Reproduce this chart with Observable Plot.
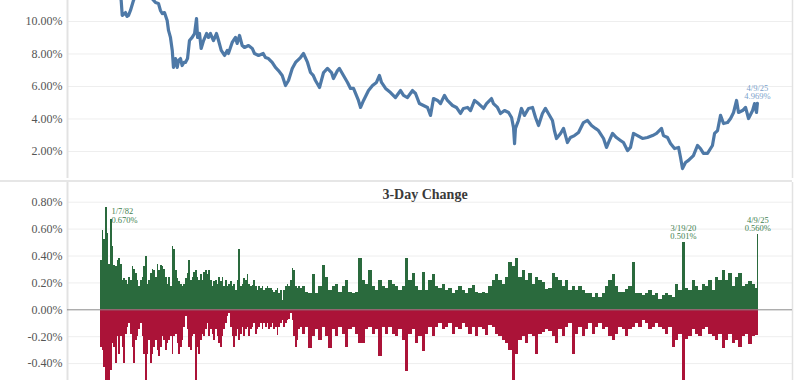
<!DOCTYPE html>
<html><head><meta charset="utf-8">
<script src="https://cdn.jsdelivr.net/npm/d3@7"></script>
<script src="https://cdn.jsdelivr.net/npm/@observablehq/plot@0.6"></script>
<style>
body{margin:0;background:#fff;}
#wrap{position:relative;width:800px;height:380px;overflow:hidden;background:#fff;}
#top{position:absolute;left:0;top:0;}
#sep{position:absolute;left:0;top:180px;width:792px;height:2px;background:#e6e6e6;}
#bot{position:absolute;left:0;top:182px;}
</style></head><body>
<div id="wrap"><div id="top"></div><div id="sep"></div><div id="bot"></div></div>
<script>
// 30-year yield (decimal year, percent)
const yieldYears = [1981.42,1981.82,1982.22,1982.55,1982.80,1982.87,1982.95,1983.09,1983.19,1983.29,
1983.42,1983.62,1983.89,1984.16,1984.42,1984.62,1984.87,1985.09,1985.29,1985.42,
1985.54,1985.69,1985.87,1985.96,1986.09,1986.21,1986.29,1986.43,1986.54,1986.63,
1986.76,1986.87,1986.99,1987.09,1987.23,1987.36,1987.54,1987.70,1987.83,1987.90,
1988.03,1988.14,1988.30,1988.50,1988.63,1988.76,1988.96,1989.16,1989.30,1989.48,
1989.70,1989.88,1989.96,1990.21,1990.43,1990.54,1990.70,1990.88,1991.03,1991.30,
1991.55,1991.70,1991.97,1992.28,1992.43,1992.63,1992.88,1993.10,1993.30,1993.55,
1993.77,1993.97,1994.22,1994.44,1994.77,1994.97,1995.24,1995.44,1995.62,1995.77,
1996.04,1996.31,1996.57,1996.84,1996.97,1997.24,1997.37,1997.64,1997.91,1998.11,
1998.31,1998.64,1998.78,1998.98,1999.31,1999.58,1999.84,2000.04,2000.18,2000.45,
2000.78,2001.11,2001.45,2001.65,2001.91,2002.25,2002.45,2002.71,2002.98,2003.25,
2003.45,2003.65,2003.92,2004.12,2004.38,2004.58,2004.92,2005.18,2005.45,2005.65,
2005.92,2006.12,2006.39,2006.65,2006.99,2007.19,2007.52,2007.65,2007.92,2008.12,
2008.39,2008.66,2008.86,2008.99,2009.06,2009.12,2009.32,2009.52,2009.72,2009.99,
2010.26,2010.46,2010.66,2010.92,2011.12,2011.32,2011.59,2011.72,2011.86,2012.13,
2012.33,2012.59,2012.79,2013.06,2013.33,2013.66,2013.93,2014.20,2014.46,2014.66,
2015.00,2015.20,2015.33,2015.60,2015.86,2016.13,2016.33,2016.60,2016.80,2017.00,
2017.27,2017.60,2017.93,2018.27,2018.54,2018.87,2019.00,2019.27,2019.47,2019.74,
2020.01,2020.14,2020.27,2020.47,2020.67,2021.00,2021.27,2021.47,2021.67,2021.94,
2022.27,2022.41,2022.61,2022.81,2023.01,2023.28,2023.48,2023.68,2023.88,2024.01,
2024.28,2024.48,2024.68,2024.95,2025.08,2025.21,2025.27];
const yieldValues = [13.4,13.9,13.2,12.2,11.3,10.37,10.43,10.55,10.31,10.37,
10.68,11.29,11.9,12.4,13.6,13.0,11.4,11.17,11.11,10.68,
10.49,10.55,10.06,9.45,9.02,8.22,7.17,7.72,7.17,7.6,
7.72,7.29,7.48,7.48,7.72,8.83,9.02,9.26,10.18,9.02,
9.26,8.34,8.83,9.26,9.02,9.26,8.83,9.26,8.83,8.22,
7.91,8.22,8.03,8.71,9.02,8.65,9.14,8.52,8.40,8.52,
8.34,8.03,7.91,8.03,7.78,7.72,7.48,7.17,6.98,6.68,
6.06,6.37,7.11,7.48,7.78,8.03,7.48,6.86,6.68,6.37,
5.94,6.86,7.11,6.86,6.49,6.98,7.11,6.68,6.25,5.88,
5.88,5.14,4.71,5.14,5.75,6.06,6.25,6.68,6.25,5.88,
5.63,5.32,5.75,5.45,5.32,5.75,5.57,4.95,4.83,4.71,
4.22,5.26,5.14,4.95,5.45,5.14,4.83,4.71,4.34,4.65,
4.71,4.52,5.14,4.95,4.65,4.95,5.26,4.95,4.71,4.34,
4.52,4.40,4.09,3.48,2.49,3.42,3.91,4.65,4.22,4.65,
4.71,4.09,3.60,4.34,4.65,4.34,3.91,3.29,2.80,3.11,
3.42,2.55,2.86,2.98,3.17,3.78,3.91,3.60,3.42,3.29,
2.80,2.25,2.55,3.11,2.86,2.68,2.55,2.06,2.25,3.11,
2.98,2.80,2.86,2.98,3.11,3.42,2.98,2.86,2.49,2.18,
2.25,1.63,0.95,1.32,1.45,1.75,2.37,2.18,1.88,1.88,
2.37,3.11,3.29,4.22,3.72,3.78,4.03,4.40,5.14,4.40,
4.52,4.71,4.03,4.52,4.95,4.40,4.969];

// 3-day change samples: decimal year, largest rise, largest fall (percentage points)
const changeYears = [1981.42,1981.53,1981.64,1981.75,1981.87,1981.98,1982.09,1982.20,1982.31,1982.42,
1982.53,1982.64,1982.76,1982.87,1982.98,1983.09,1983.20,1983.31,1983.42,1983.53,
1983.65,1983.76,1983.87,1983.98,1984.09,1984.20,1984.31,1984.42,1984.54,1984.65,
1984.76,1984.87,1984.98,1985.09,1985.20,1985.31,1985.43,1985.54,1985.65,1985.76,
1985.87,1985.98,1986.09,1986.21,1986.32,1986.43,1986.54,1986.65,1986.76,1986.87,
1986.98,1987.10,1987.21,1987.32,1987.43,1987.54,1987.65,1987.76,1987.87,1987.99,
1988.10,1988.21,1988.32,1988.43,1988.54,1988.65,1988.76,1988.88,1988.99,1989.10,
1989.21,1989.32,1989.43,1989.54,1989.65,1989.77,1989.88,1989.99,1990.10,1990.21,
1990.32,1990.43,1990.54,1990.66,1990.77,1990.88,1990.99,1991.10,1991.21,1991.32,
1991.43,1991.55,1991.66,1991.77,1991.88,1991.99,1992.10,1992.21,1992.32,1992.44,
1992.55,1992.66,1992.77,1992.88,1992.99,1993.10,1993.21,1993.33,1993.44,1993.55,
1993.66,1993.77,1993.88,1993.99,1994.10,1994.22,1994.33,1994.44,1994.55,1994.66,
1994.77,
1994.88,1995.10,1995.33,1995.55,1995.77,1996.00,1996.22,1996.44,1996.66,1996.89,
1997.11,1997.33,1997.55,1997.78,1998.00,1998.22,1998.44,1998.67,1998.89,1999.11,
1999.33,1999.56,1999.78,2000.00,2000.22,2000.45,2000.67,2000.89,2001.11,2001.34,
2001.56,2001.78,2002.00,2002.23,2002.45,2002.67,2002.89,2003.12,2003.34,2003.56,
2003.78,2004.01,2004.23,2004.45,2004.67,2004.90,2005.12,2005.34,2005.56,2005.79,
2006.01,2006.23,2006.45,2006.68,2006.90,2007.12,2007.34,2007.57,2007.79,2008.01,
2008.23,2008.46,2008.68,2008.90,2009.12,2009.35,2009.57,2009.79,2010.01,2010.24,
2010.46,
2010.68,2010.90,2011.13,2011.35,2011.57,2011.79,2012.02,2012.24,2012.46,2012.68,
2012.91,2013.13,2013.35,2013.57,2013.80,2014.02,2014.24,2014.46,2014.69,2014.91,
2015.13,2015.35,2015.57,2015.80,2016.02,2016.24,2016.46,2016.69,2016.91,2017.13,
2017.35,2017.58,2017.80,2018.02,2018.24,2018.47,2018.69,2018.91,2019.13,2019.36,
2019.58,2019.80,2020.02,2020.25,2020.47,2020.69,2020.91,2021.14,2021.36,2021.58,
2021.80,2022.03,2022.25,2022.47,2022.69,2022.92,2023.14,2023.36,2023.58,2023.81,
2024.03,2024.25,2024.47,2024.70,2024.92,2025.14,
2025.27];
const changeUp = [0.37,0.59,0.52,0.76,0.57,0.34,0.67,0.47,0.33,0.32,
0.37,0.38,0.34,0.22,0.23,0.22,0.19,0.24,0.22,0.32,
0.30,0.27,0.22,0.17,0.22,0.24,0.32,0.40,0.19,0.22,
0.27,0.30,0.29,0.24,0.34,0.29,0.33,0.32,0.30,0.24,
0.19,0.24,0.17,0.47,0.45,0.29,0.23,0.21,0.19,0.17,
0.19,0.23,0.27,0.37,0.22,0.24,0.28,0.29,0.24,0.22,
0.26,0.22,0.28,0.29,0.26,0.29,0.22,0.17,0.21,0.22,
0.19,0.24,0.21,0.24,0.17,0.22,0.17,0.19,0.21,0.17,
0.19,0.14,0.22,0.45,0.17,0.19,0.23,0.22,0.26,0.19,
0.17,0.18,0.22,0.17,0.14,0.17,0.16,0.17,0.14,0.16,
0.17,0.16,0.16,0.14,0.13,0.14,0.16,0.12,0.14,0.07,
0.14,0.17,0.19,0.17,0.22,0.31,0.29,0.17,0.16,0.17,
0.16,
0.17,0.13,0.12,0.26,0.12,0.17,0.33,0.24,0.14,0.17,
0.19,0.13,0.17,0.22,0.13,0.12,0.13,0.38,0.22,0.19,
0.29,0.17,0.14,0.22,0.17,0.16,0.22,0.19,0.17,0.14,
0.17,0.38,0.22,0.27,0.17,0.14,0.28,0.14,0.22,0.26,
0.17,0.16,0.19,0.14,0.16,0.12,0.14,0.17,0.14,0.12,
0.16,0.18,0.13,0.12,0.13,0.12,0.17,0.22,0.26,0.22,
0.19,0.24,0.35,0.32,0.38,0.24,0.29,0.22,0.27,0.19,
0.24,
0.22,0.20,0.15,0.16,0.27,0.24,0.22,0.17,0.22,0.14,
0.17,0.14,0.17,0.14,0.12,0.12,0.09,0.12,0.09,0.12,
0.17,0.22,0.26,0.17,0.13,0.13,0.15,0.17,0.35,0.12,
0.12,0.11,0.12,0.14,0.11,0.12,0.08,0.11,0.12,0.11,
0.09,0.19,0.14,0.50,0.16,0.14,0.22,0.17,0.14,0.19,
0.17,0.22,0.14,0.24,0.22,0.29,0.22,0.27,0.17,0.24,
0.27,0.17,0.19,0.21,0.19,0.16,
0.56];
const changeDown = [-0.28,-0.30,-0.43,-0.53,-0.53,-0.53,-0.45,-0.25,-0.28,-0.40,
-0.20,-0.33,-0.20,-0.28,-0.40,-0.18,-0.13,-0.10,-0.18,-0.28,
-0.40,-0.23,-0.20,-0.15,-0.10,-0.20,-0.33,-0.53,-0.33,-0.23,
-0.40,-0.33,-0.28,-0.23,-0.30,-0.35,-0.28,-0.20,-0.23,-0.30,
-0.25,-0.23,-0.20,-0.33,-0.20,-0.18,-0.25,-0.33,-0.28,-0.23,
-0.13,-0.05,-0.15,-0.28,-0.30,-0.20,-0.18,-0.53,-0.28,-0.33,
-0.23,-0.18,-0.20,-0.15,-0.10,-0.20,-0.15,-0.18,-0.23,-0.15,
-0.20,-0.25,-0.28,-0.20,-0.15,-0.10,-0.05,-0.03,-0.13,-0.20,
-0.28,-0.20,-0.15,-0.23,-0.18,-0.13,-0.20,-0.15,-0.13,-0.20,
-0.15,-0.13,-0.10,-0.18,-0.15,-0.13,-0.10,-0.15,-0.10,-0.13,
-0.10,-0.15,-0.13,-0.10,-0.15,-0.13,-0.19,-0.13,-0.10,-0.08,
-0.13,-0.10,-0.08,-0.07,-0.03,-0.08,-0.20,-0.28,-0.23,-0.15,
-0.13,
-0.18,-0.13,-0.29,-0.20,-0.15,-0.23,-0.13,-0.20,-0.29,-0.15,
-0.20,-0.13,-0.18,-0.28,-0.15,-0.13,-0.18,-0.25,-0.25,-0.15,
-0.13,-0.18,-0.15,-0.35,-0.13,-0.18,-0.13,-0.18,-0.20,-0.15,
-0.23,-0.46,-0.18,-0.15,-0.25,-0.20,-0.31,-0.18,-0.13,-0.20,
-0.13,-0.10,-0.15,-0.13,-0.10,-0.18,-0.13,-0.15,-0.10,-0.13,
-0.18,-0.13,-0.20,-0.13,-0.15,-0.19,-0.12,-0.13,-0.18,-0.20,
-0.23,-0.25,-0.30,-0.53,-0.33,-0.23,-0.20,-0.25,-0.18,-0.20,
-0.33,
-0.18,-0.17,-0.15,-0.16,-0.20,-0.25,-0.15,-0.20,-0.13,-0.10,
-0.33,-0.18,-0.13,-0.20,-0.15,-0.10,-0.18,-0.13,-0.10,-0.15,
-0.13,-0.20,-0.23,-0.18,-0.13,-0.15,-0.20,-0.15,-0.13,-0.10,
-0.13,-0.08,-0.10,-0.15,-0.13,-0.10,-0.13,-0.15,-0.18,-0.13,
-0.28,-0.23,-0.18,-0.53,-0.22,-0.20,-0.15,-0.18,-0.20,-0.15,
-0.13,-0.18,-0.20,-0.23,-0.18,-0.29,-0.23,-0.18,-0.25,-0.23,
-0.28,-0.20,-0.18,-0.26,-0.20,-0.19,
-0.19];

const yieldTicks = [2, 4, 6, 8, 10];
const changeTicks = [-0.4, -0.2, 0, 0.2, 0.4, 0.6, 0.8];
const yieldNotes = [{year: 2025.27, value: 4.969, label: "4/9/25\n4.969%"}];
const changeNotesLeft = [{year: 1982.02, value: 0.670, label: "1/7/82\n0.670%"}];
const changeNotesTop = [
  {year: 2020.33, value: 0.501, label: "3/19/20\n0.501%"},
  {year: 2025.30, value: 0.560, label: "4/9/25\n0.560%"}
];
const chartTitle = "3-Day Change";

const xDomain = [1979.217, 2027.614];
const FONT = "'Liberation Serif','DejaVu Serif',serif";
const fmt = d => d.toFixed(2) + "%";

const yieldData = yieldYears.map((y, i) => ({year: y, value: yieldValues[i]}));
const bars = changeYears.map((y, i) => ({
  x1: y,
  x2: i < changeYears.length - 1 ? changeYears[i + 1] : y + 0.1,
  up: changeUp[i],
  down: changeDown[i]
}));

const topPlot = Plot.plot({
  width: 800, height: 180,
  marginLeft: 67, marginRight: 8, marginTop: 0, marginBottom: 2,
  style: {fontFamily: FONT, fontSize: "12px", color: "#555", background: "white", overflow: "hidden"},
  x: {domain: xDomain, axis: null},
  y: {domain: [0.338, 11.292], axis: null},
  marks: [
    Plot.ruleY(yieldTicks, {stroke: "#eeeeee"}),
    Plot.axisY(yieldTicks, {tickSize: 0, tickPadding: 5, tickFormat: fmt, fontSize: 12, fill: "#555", label: null}),
    Plot.ruleX([xDomain[0]], {stroke: "#e2e2e2", strokeWidth: 2}),
    Plot.ruleX([xDomain[1]], {stroke: "#e2e2e2", strokeWidth: 1.5}),
    Plot.line(yieldData, {x: "year", y: "value", stroke: "#4e79a7", strokeWidth: 3.2, strokeLinejoin: "round", clip: true}),
    Plot.text(yieldNotes, {x: "year", y: "value", text: "label", fill: "#7b9fcc", fontSize: 8.5, lineHeight: 1, lineAnchor: "bottom", dy: -4})
  ]
});
document.getElementById("top").appendChild(topPlot);

const botPlot = Plot.plot({
  width: 800, height: 198,
  marginLeft: 67, marginRight: 8, marginTop: 0, marginBottom: 0,
  style: {fontFamily: FONT, fontSize: "12px", color: "#555", background: "white", overflow: "hidden"},
  x: {domain: xDomain, axis: null},
  y: {domain: [-0.5257, 0.9465], axis: null},
  marks: [
    Plot.ruleY(changeTicks.filter(d => d !== 0), {stroke: "#eeeeee"}),
    Plot.axisY(changeTicks, {tickSize: 0, tickPadding: 5, tickFormat: fmt, fontSize: 12, fill: "#555", label: null}),
    Plot.ruleX([xDomain[0]], {stroke: "#e2e2e2", strokeWidth: 2}),
    Plot.ruleX([xDomain[1]], {stroke: "#e2e2e2", strokeWidth: 1.5}),
    Plot.rect(bars, {x1: "x1", x2: "x2", y1: () => 0, y2: "up", fill: "#2a6a3d", shapeRendering: "crispEdges", clip: true}),
    Plot.rect(bars, {x1: "x1", x2: "x2", y1: () => 0, y2: "down", fill: "#ab1338", shapeRendering: "crispEdges", clip: true}),
    Plot.ruleY([0], {stroke: "#8a8a8a"}),
    Plot.text(changeNotesLeft, {x: "year", y: "value", text: "label", fill: "#3f7f51", fontSize: 8.5, lineHeight: 1, textAnchor: "start", dx: 2, dy: -4}),
    Plot.text(changeNotesTop, {x: "year", y: "value", text: "label", fill: "#3f7f51", fontSize: 8.5, lineHeight: 1, lineAnchor: "bottom", dy: -3}),
    Plot.text([chartTitle], {frameAnchor: "top", dx: -5, dy: 7, fontSize: 14, fontWeight: "bold", fill: "#3a3a3a"})
  ]
});
document.getElementById("bot").appendChild(botPlot);
</script>
</body></html>
